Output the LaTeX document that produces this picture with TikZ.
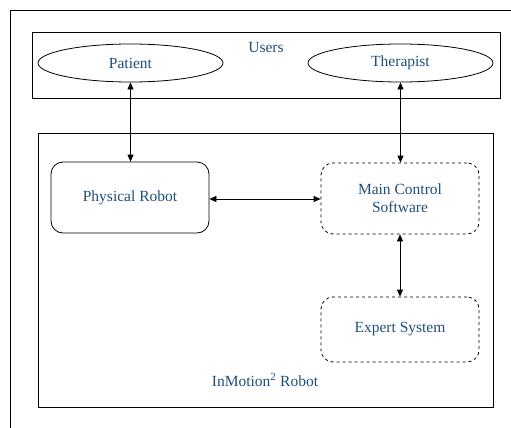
\documentclass[tikz,border=0pt]{standalone}
\usepackage{fontspec}
\setmainfont{Liberation Serif}
\usetikzlibrary{shapes.geometric,arrows.meta}
\definecolor{txtblue}{HTML}{1F4E79}
\tikzset{
  lbl/.style={text=txtblue,font=\fontsize{15.5}{18}\selectfont,align=center},
  frame/.style={draw,line width=0.9pt},
  actor/.style={draw,ellipse,line width=0.8pt,minimum width=185pt,minimum height=38pt,lbl},
  solidbox/.style={draw,rounded corners=12pt,line width=0.8pt,minimum width=158pt,minimum height=71pt,lbl},
  dashbox/.style={draw,dashed,rounded corners=12pt,line width=0.8pt,minimum width=158pt,minimum height=71pt,lbl},
  link/.style={{Triangle[length=7pt,width=6pt]}-{Triangle[length=7pt,width=6pt]},line width=0.8pt}
}
\begin{document}
\begin{tikzpicture}[x=1pt,y=-1pt]
\useasboundingbox (0,0) rectangle (511,428);
% outer (cropped) frame
\draw[line width=0.9pt] (10,428) -- (10,10) -- (511,10);
% users box
\node[frame,minimum width=468pt,minimum height=66pt,inner sep=0pt] (users) at (266,65) {};
\node[lbl] (userslbl) at (266,48) {Users};
\node[actor] (patient) at (130.5,63) {Patient};
\node[actor] (therapist) at (400.5,63) {Therapist};
% robot box
\node[frame,minimum width=455pt,minimum height=274pt,inner sep=0pt] (robot) at (265.5,270) {};
\node[lbl] (robotlbl) at (265,380) {InMotion\textsuperscript{2} Robot};
\node[solidbox] (phys) at (130,197.5) {Physical Robot};
\node[dashbox] (mcs) at (400,198.5) {Main Control\\Software};
\node[dashbox,minimum height=65pt] (expert) at (400,329.5) {Expert System};
% connectors
\draw[link] (patient.south) -- (patient.south |- phys.north);
\draw[link] (therapist.south) -- (therapist.south |- mcs.north);
\draw[link] (phys.east |- 0,199) -- (mcs.west |- 0,199);
\draw[link] (mcs.south) -- (expert.north);
\end{tikzpicture}
\end{document}
